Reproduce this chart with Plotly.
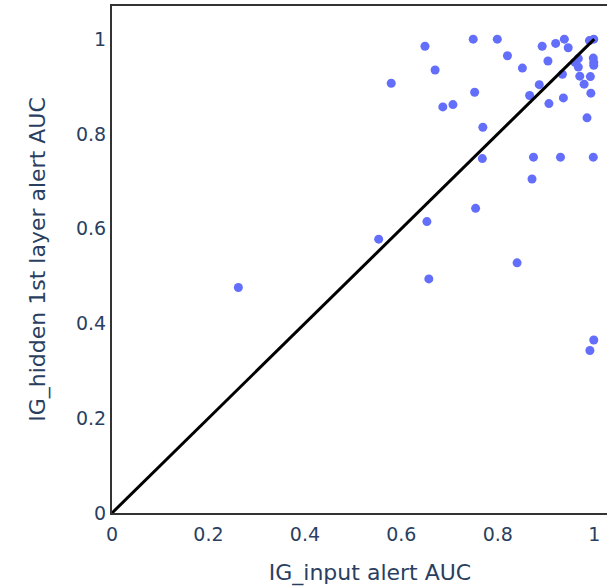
import plotly.graph_objects as go

# AUC per alert: input-layer IG vs first-hidden-layer IG
ig_input_auc = [
    0.262, 0.553, 0.653, 0.657, 0.754, 0.840, 0.999, 0.991,
    0.579, 0.649, 0.670, 0.686, 0.707, 0.749, 0.752, 0.769,
    0.768, 0.799, 0.820, 0.851, 0.866, 0.874, 0.871, 0.886,
    0.892, 0.904, 0.906, 0.920, 0.930, 0.934, 0.936, 0.938,
    0.946, 0.960, 0.967, 0.967, 0.970, 0.979, 0.985, 0.990,
    0.992, 0.993, 0.999, 0.998, 0.999, 0.999, 0.998,
]
ig_hidden1_auc = [
    0.476, 0.578, 0.615, 0.494, 0.643, 0.528, 0.365, 0.343,
    0.907, 0.985, 0.935, 0.857, 0.862, 1.000, 0.888, 0.814,
    0.748, 1.000, 0.965, 0.939, 0.881, 0.751, 0.705, 0.904,
    0.985, 0.954, 0.864, 0.991, 0.751, 0.926, 0.876, 1.000,
    0.982, 0.951, 0.959, 0.941, 0.922, 0.905, 0.834, 0.997,
    0.921, 0.886, 1.000, 0.960, 0.951, 0.945, 0.751,
]

# reference diagonal y = x
diag = [0, 1]

text_color = "#2a3f5f"

fig = go.Figure()
fig.add_trace(go.Scatter(
    x=ig_input_auc, y=ig_hidden1_auc, mode="markers",
    marker=dict(color="#636efa", size=9),
    showlegend=False,
))
fig.add_trace(go.Scatter(
    x=diag, y=diag, mode="lines",
    line=dict(color="black", width=3),
    showlegend=False,
))

axis_common = dict(
    showgrid=False, zeroline=False, showline=True, linecolor="#333",
    linewidth=2, mirror=True, ticks="", tickvals=[0, 0.2, 0.4, 0.6, 0.8, 1],
    ticktext=["0", "0.2", "0.4", "0.6", "0.8", "1"],
    tickfont=dict(size=19, color=text_color),
)

fig.update_layout(
    width=700, height=586,
    margin=dict(l=112, r=72, t=6, b=73, autoexpand=False),
    plot_bgcolor="white", paper_bgcolor="white",
    font=dict(family="Verdana, DejaVu Sans, sans-serif", color=text_color),
    xaxis=dict(range=[0, 1.07], ticklabelstandoff=3,
               title=dict(text="IG_input alert AUC", font=dict(size=22), standoff=22),
               **axis_common),
    yaxis=dict(range=[0, 1.07],
               title=dict(text="IG_hidden 1st layer alert AUC", font=dict(size=22), standoff=24),
               **axis_common),
)

fig.write_html("out.html")
